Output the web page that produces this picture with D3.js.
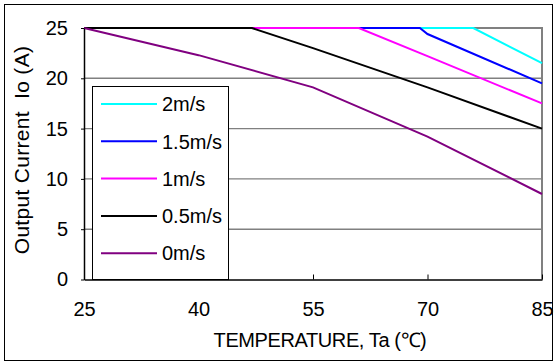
<!DOCTYPE html>
<html><head><meta charset="utf-8">
<script src="https://cdn.jsdelivr.net/npm/d3@7"></script>
<style>body{margin:0;background:#fff}svg{display:block;font-family:Arial,"Liberation Sans",sans-serif}</style>
</head><body>
<script>
const seriesNames = ["2m/s", "1.5m/s", "1m/s", "0.5m/s", "0m/s"];
const seriesColors = ["#00FFFF", "#0000FF", "#FF00FF", "#000000", "#800080"];
const temps2 = [25, 76, 85];           const current2 = [25, 25, 21.5];
const temps15 = [25, 69, 70, 85];      const current15 = [25, 25, 24.4, 19.5];
const temps1 = [25, 61, 70, 85];       const current1 = [25, 25, 22.2, 17.5];
const temps05 = [25, 47, 55, 70, 85];  const current05 = [25, 25, 23, 19.1, 15];
const temps0 = [25, 40, 55, 70, 85];   const current0 = [25, 22.3, 19.1, 14.2, 8.5];
const xTicks = [25, 40, 55, 70, 85];
const yTicks = [0, 5, 10, 15, 20, 25];

const W = 554, H = 362;
const L = 84, R = 542, T = 28, B = 279.5;
const svg = d3.select("body").append("svg").attr("width", W).attr("height", H);
svg.append("rect").attr("x", 4.5).attr("y", 4.5).attr("width", 548).attr("height", 356)
  .attr("fill", "#fff").attr("stroke", "#000").attr("stroke-width", 1);

const x = d3.scaleLinear().domain([25, 85]).range([L, R]);
const y = d3.scaleLinear().domain([0, 25]).range([B, T]);

// gridlines
svg.append("g").selectAll("line").data(yTicks.filter(d => d > 0 && d < 25)).join("line")
  .attr("x1", L).attr("x2", R).attr("y1", d => y(d)).attr("y2", d => y(d))
  .attr("stroke", "#808080").attr("stroke-width", 1.4);
// top/right frame
svg.append("path").attr("d", `M${L},${T}H${R}V${B}`).attr("fill", "none")
  .attr("stroke", "#808080").attr("stroke-width", 2);

const series = [
  {name: seriesNames[0], color: seriesColors[0], t: temps2, v: current2},
  {name: seriesNames[1], color: seriesColors[1], t: temps15, v: current15},
  {name: seriesNames[2], color: seriesColors[2], t: temps1, v: current1},
  {name: seriesNames[3], color: seriesColors[3], t: temps05, v: current05},
  {name: seriesNames[4], color: seriesColors[4], t: temps0, v: current0}
];
const line = d3.line().x(d => x(d[0])).y(d => y(d[1]));
series.forEach(s => {
  svg.append("path").datum(s.t.map((t, i) => [t, s.v[i]]))
    .attr("d", line).attr("fill", "none").attr("stroke", s.color).attr("stroke-width", 2);
});

// axes
const xAxis = d3.axisBottom(x).tickValues(xTicks).tickSize(-5).tickSizeOuter(0).tickPadding(22);
const gx = svg.append("g").attr("transform", `translate(0,${B})`).call(xAxis);
gx.select(".domain").attr("stroke", "#000").attr("stroke-width", 1.5);
gx.selectAll(".tick line").attr("stroke", "#000");
gx.selectAll("text").attr("font-size", 20).attr("fill", "#000").attr("font-family", "Arial, 'Liberation Sans', sans-serif");

const yAxis = d3.axisLeft(y).tickValues(yTicks).tickSize(3).tickSizeOuter(0).tickPadding(13);
const gy = svg.append("g").attr("transform", `translate(${L},0)`).call(yAxis);
gy.select(".domain").attr("stroke", "#000").attr("stroke-width", 1.5);
gy.selectAll(".tick line").attr("stroke", "#000");
gy.selectAll("text").attr("font-size", 20).attr("fill", "#000").attr("font-family", "Arial, 'Liberation Sans', sans-serif");

// legend
const lg = svg.append("g");
lg.append("rect").attr("x", 92.5).attr("y", 86.5).attr("width", 136).attr("height", 193)
  .attr("fill", "#fff").attr("stroke", "#000").attr("stroke-width", 1);
series.forEach((s, i) => {
  const yy = 104 + i * 37.3;
  lg.append("line").attr("x1", 101).attr("x2", 157).attr("y1", yy).attr("y2", yy)
    .attr("stroke", s.color).attr("stroke-width", 2);
  lg.append("text").attr("x", 162).attr("y", yy).attr("dy", "0.36em")
    .attr("font-size", 20).attr("fill", "#000").text(s.name);
});

// axis titles
svg.append("text").attr("x", 320).attr("y", 347).attr("text-anchor", "middle")
  .attr("font-size", 20).attr("letter-spacing", -0.4).attr("fill", "#000").text("TEMPERATURE, Ta (℃)");
svg.append("text").attr("transform", "translate(29,150) rotate(-90)").attr("text-anchor", "middle")
  .attr("font-size", 21).attr("letter-spacing", 0.3).attr("fill", "#000").style("white-space", "pre")
  .text("Output Current  Io (A)");
</script>
</body></html>
